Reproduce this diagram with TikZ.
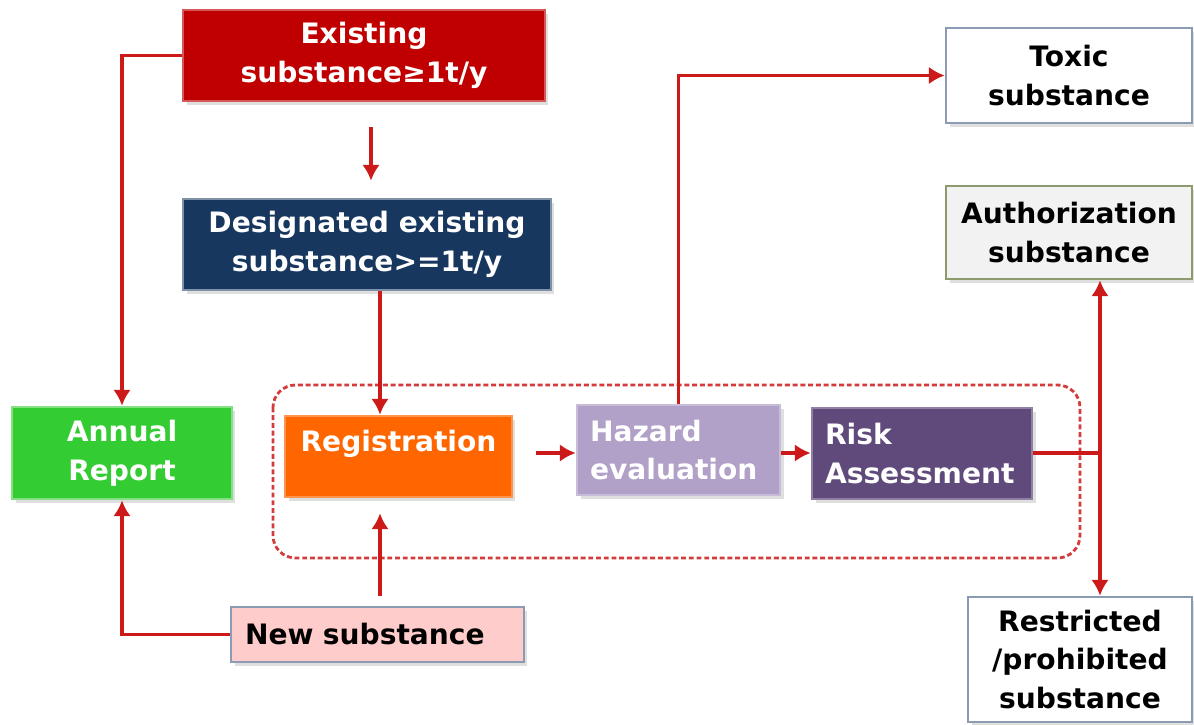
\documentclass[tikz,border=0pt]{standalone}
\usepackage{fontspec}
\setmainfont{DejaVu Sans}
\usepackage{xcolor}
\usetikzlibrary{arrows.meta}
\usetikzlibrary{shadows}

\definecolor{linkred}{HTML}{CC1A1A}
\definecolor{exred}{HTML}{C00000}
\definecolor{navy}{HTML}{17375E}
\definecolor{repgreen}{HTML}{33CC33}
\definecolor{regorange}{HTML}{FF6600}
\definecolor{hazlilac}{HTML}{B1A0C7}
\definecolor{riskpurple}{HTML}{604A7B}
\definecolor{greyblue}{HTML}{8A9BB3}
\definecolor{olive}{HTML}{8C9A6E}
\definecolor{pinkfill}{HTML}{FFCCCC}

\begin{document}
\begin{tikzpicture}[x=0.02cm, y=-0.02cm,
  box/.style={rectangle, line width=1.5pt, inner sep=0pt, align=center,
    font=\bfseries\fontsize{16}{22}\selectfont,
    drop shadow={opacity=0.25, shadow xshift=2pt, shadow yshift=-2pt}},
  link/.style={draw=linkred, line width=1.8pt, -{Latex[length=9pt,width=10pt]}}]

\useasboundingbox (0,0) rectangle (1194,724);

% frame of the assessment steps
\draw[linkred!85, line width=1.6pt, dash pattern=on 2.8pt off 1.6pt, rounded corners=0.45cm]
  (273,385) rectangle (1080,558);

% boxes
\node[box, fill=exred, draw=exred!65!white, text=white, minimum width=7.24cm, minimum height=1.82cm]
  (exist) at (364,55.5) {Existing\\substance≥1t/y};
\node[box, fill=navy, draw=navy!55!white, text=white, minimum width=7.36cm, minimum height=1.82cm]
  (desig) at (367,244.5) {Designated existing\\substance>=1t/y};
\node[box, fill=repgreen, draw=repgreen!60!white, text=white, minimum width=4.4cm, minimum height=1.84cm]
  (annual) at (122,453) {Annual\\Report};
\node[box, fill=regorange, draw=regorange!70!white, text=white, minimum width=4.54cm, minimum height=1.62cm,
  text depth=0.62cm] (regist) at (398.5,456.5) {Registration};
\node[box, fill=hazlilac, draw=hazlilac!70!white, text=white, minimum width=4.06cm, minimum height=1.8cm,
  align=left, text width=3.54cm] (hazard) at (678.5,450) {Hazard\\evaluation};
\node[box, fill=riskpurple, draw=riskpurple!70!white, text=white, minimum width=4.4cm, minimum height=1.82cm,
  align=left, text width=3.88cm] (risk) at (922,453.5) {Risk\\Assessment};
\node[box, fill=white, draw=greyblue, minimum width=4.92cm, minimum height=1.9cm]
  (toxic) at (1069,75.5) {Toxic\\substance};
\node[box, fill=black!5, draw=olive, minimum width=4.92cm, minimum height=1.86cm]
  (auth) at (1069,232.5) {Authorization\\substance};
\node[box, fill=white, draw=greyblue, minimum width=4.48cm, minimum height=2.5cm]
  (restr) at (1080,659.5) {Restricted\\/prohibited\\substance};
\node[box, fill=pinkfill, draw=greyblue, minimum width=5.86cm, minimum height=1.1cm,
  align=left, text width=5.3cm] (newsub) at (377.5,634.5) {New substance};

% helper coordinates
\coordinate (midx) at (371,0);
\coordinate (dropx) at (380,0);
\coordinate (rowy) at (0,453);
\coordinate (fork) at (1100,453);

% connectors
\draw[link] (exist.west) -| (annual.north);
\draw[link, shorten <=0.5cm, shorten >=0.34cm] (exist.south -| midx) -- (desig.north -| midx);
\draw[link] (desig.south -| dropx) -- (regist.north -| dropx);
\draw[link, shorten <=0.2cm, shorten >=0.3cm] (newsub.north -| dropx) -- (regist.south -| dropx);
\draw[link] (newsub.west) -| (annual.south);
\draw[link, shorten <=0.46cm] (regist.east |- rowy) -- (hazard.west |- rowy);
\draw[link] (hazard.east |- rowy) -- (risk.west |- rowy);
\draw[link] (hazard.north) |- (toxic.west);
\draw[draw=linkred, line width=1.8pt] (risk.east |- rowy) -- (fork);
\draw[link] (fork) -- (auth.south -| fork);
\draw[link] (fork) -- (restr.north -| fork);

\end{tikzpicture}
\end{document}
